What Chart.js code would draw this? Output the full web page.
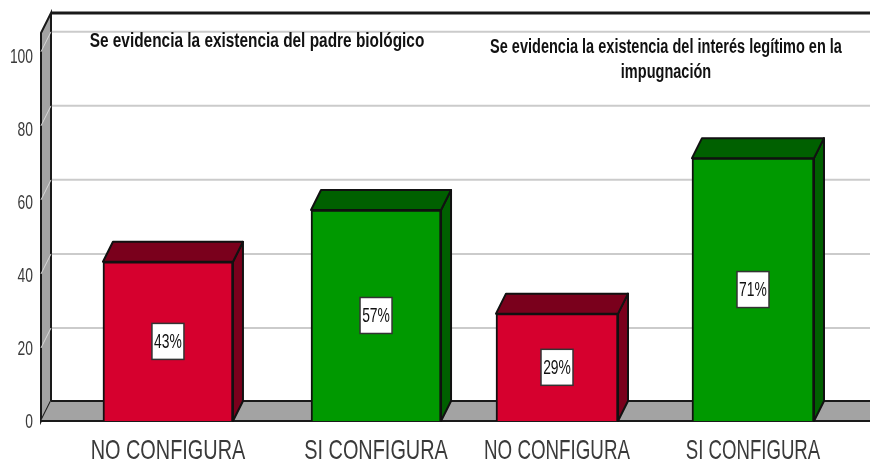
<!DOCTYPE html>
<html><head><meta charset="utf-8">
<style>html,body{margin:0;padding:0;background:#fff}canvas{display:block;filter:blur(0.4px)}</style>
<script src="https://cdn.jsdelivr.net/npm/chart.js@4"></script>
</head><body><canvas id="c" width="870" height="464"></canvas>
<script>
const categories = ["NO CONFIGURA","SI CONFIGURA","NO CONFIGURA","SI CONFIGURA"];
const values = [43,57,29,71];
const yTicksShown = [0,20,40,60,80,100];
const panelTitles = [
  ["Se evidencia la existencia del padre biológico"],
  ["Se evidencia la existencia del interés legítimo en la","impugnación"]
];
const xSlots = [0,1.067,1.995,3];
const labelSqueeze = [0.71,0.71,0.67,0.665];
const frontColors = ["#d6002e","#009900","#d6002e","#009900"];
const darkColors = ["#7a001c","#006000","#7a001c","#006000"];
const FONT = '"Liberation Sans",Arial,sans-serif';
const DX = 10, DY = 20;

function squeezed(ctx,text,x,y,sx,font,color,align){
  ctx.save();
  ctx.translate(x,y);ctx.scale(sx,1);
  ctx.font=font;ctx.fillStyle=color;ctx.textAlign=align||'center';ctx.textBaseline='middle';
  ctx.fillText(text,0,0);
  ctx.restore();
}

const bar3d = {
  id:'bar3d',
  beforeDatasetsDraw(chart){
    const {ctx,chartArea:a,scales:{y}} = chart;
    const L=a.left,R=a.right,B=y.getPixelForValue(0),T=a.top;
    ctx.save();
    ctx.fillStyle='#a3a3a3';ctx.strokeStyle='#1a1a1a';ctx.lineWidth=2;
    ctx.beginPath();ctx.moveTo(L,T);ctx.lineTo(L+DX,T-DY);ctx.lineTo(L+DX,B-DY);ctx.lineTo(L,B);ctx.closePath();ctx.fill();ctx.stroke();
    ctx.beginPath();ctx.moveTo(L,B);ctx.lineTo(L+DX,B-DY);ctx.lineTo(R+2,B-DY);ctx.lineTo(R+2,B);ctx.closePath();ctx.fill();
    yTicksShown.slice(1).forEach(v=>{
      const p=y.getPixelForValue(v)+1;
      ctx.strokeStyle='#cbcbcb';ctx.lineWidth=2;
      ctx.beginPath();ctx.moveTo(L+DX+1,p-DY);ctx.lineTo(R,p-DY);ctx.stroke();
      ctx.strokeStyle='#d8d8d8';ctx.lineWidth=1;
      ctx.beginPath();ctx.moveTo(L,p);ctx.lineTo(L+DX,p-DY);ctx.stroke();
    });
    ctx.strokeStyle='#1a1a1a';ctx.lineWidth=2;
    ctx.beginPath();ctx.moveTo(L+DX,B-DY);ctx.lineTo(R,B-DY);ctx.stroke();
    ctx.lineWidth=3;
    ctx.beginPath();ctx.moveTo(L+DX,T-DY);ctx.lineTo(R,T-DY);ctx.stroke();
    ctx.lineWidth=2;
    ctx.beginPath();ctx.moveTo(L,B);ctx.lineTo(R,B);ctx.stroke();
    ctx.lineWidth=2;ctx.strokeStyle='#111';ctx.lineJoin='round';
    chart.data.datasets.forEach((ds,di)=>{
      chart.getDatasetMeta(di).data.forEach((el,i)=>{
        const idx=ds.indexes[i];
        const l=el.x-el.width/2,r=el.x+el.width/2,t=el.y,b=el.base;
        ctx.fillStyle=darkColors[idx];
        ctx.beginPath();ctx.moveTo(r,t);ctx.lineTo(r+DX,t-DY);ctx.lineTo(r+DX,b-DY);ctx.lineTo(r,b);ctx.closePath();ctx.fill();ctx.stroke();
        ctx.beginPath();ctx.moveTo(l,t);ctx.lineTo(l+DX,t-DY);ctx.lineTo(r+DX,t-DY);ctx.lineTo(r,t);ctx.closePath();ctx.fill();ctx.stroke();
      });
    });
    ctx.restore();
  },
  afterDatasetsDraw(chart){
    const {ctx,scales:{x,yLabels}} = chart;
    ctx.save();
    chart.data.datasets.forEach((ds,di)=>{
      chart.getDatasetMeta(di).data.forEach((el,i)=>{
        const idx=ds.indexes[i];
        const cy=(el.y+el.base)/2, w=32,h=36;
        ctx.fillStyle='#fff';ctx.strokeStyle='#333';ctx.lineWidth=1.5;
        ctx.fillRect(el.x-w/2,cy-h/2,w,h);ctx.strokeRect(el.x-w/2,cy-h/2,w,h);
        squeezed(ctx,values[idx]+'%',el.x,cy+1,0.66,'21px '+FONT,'#111');
      });
    });
    x.ticks.forEach((t,i)=>squeezed(ctx,t.label,x.getPixelForTick(i),451,labelSqueeze[i],'28px '+FONT,'#3a3a3a'));
    yLabels.ticks.forEach((t,i)=>squeezed(ctx,t.label,33,yLabels.getPixelForTick(i)+1,0.66,'21px '+FONT,'#3a3a3a','right'));
    panelTitles[0].forEach((t,i)=>squeezed(ctx,t,257,41+i*25,0.77,'bold 20px '+FONT,'#111'));
    panelTitles[1].forEach((t,i)=>squeezed(ctx,t,666,47+i*25,0.726,'bold 20px '+FONT,'#111'));
    ctx.restore();
  }
};

new Chart(document.getElementById('c'),{
  type:'bar',
  data:{datasets:[
    {indexes:[0,1],barThickness:130,grouped:false,
     data:[0,1].map(i=>({x:xSlots[i],y:values[i]})),
     backgroundColor:[0,1].map(i=>frontColors[i]),borderColor:'#111',borderWidth:2},
    {indexes:[2,3],barThickness:122,grouped:false,
     data:[2,3].map(i=>({x:xSlots[i],y:values[i]})),
     backgroundColor:[2,3].map(i=>frontColors[i]),borderColor:'#111',borderWidth:2}
  ]},
  options:{
    responsive:false,animation:false,
    layout:{padding:{top:33,right:0,left:0,bottom:0}},
    plugins:{legend:{display:false},tooltip:{enabled:false},title:{display:false}},
    scales:{
      x:{type:'linear',offset:false,min:-0.651,max:3.6,
        grid:{display:false},border:{display:false},
        afterBuildTicks(s){s.ticks=xSlots.map(v=>({value:v}));},
        afterFit(s){s.height=43;},
        ticks:{display:false,callback(v,i){return categories[i];}}
      },
      y:{display:false,min:0,max:104.8},
      yLabels:{position:'left',min:0,max:106.3,
        grid:{display:false},border:{display:false},
        afterBuildTicks(s){s.ticks=yTicksShown.map(v=>({value:v}));},
        afterFit(s){s.width=41;},
        ticks:{display:false}
      }
    }
  },
  plugins:[bar3d]
});
</script></body></html>
